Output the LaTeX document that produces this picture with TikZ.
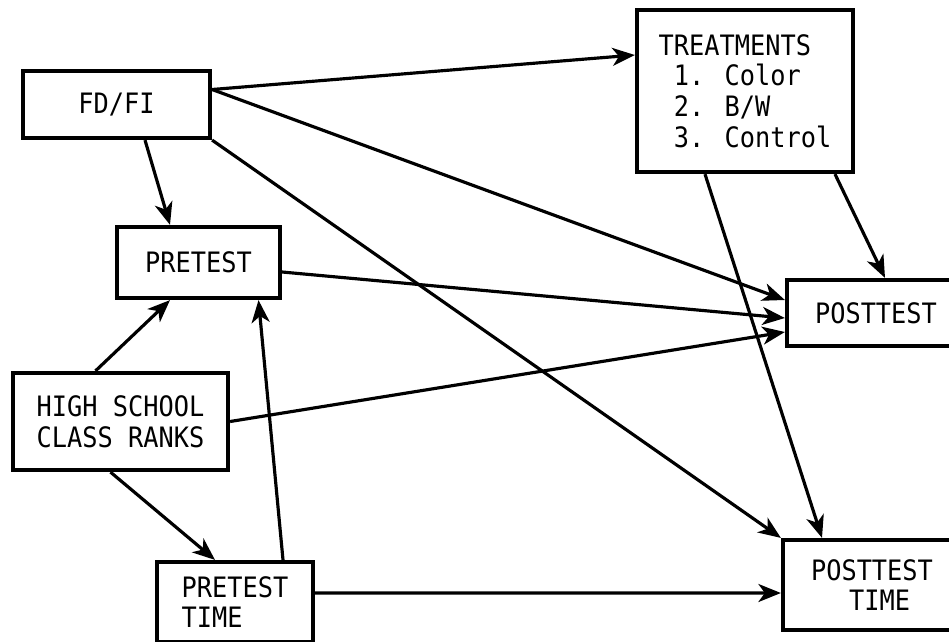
\documentclass[tikz,border=0pt]{standalone}
\usepackage{fontspec}
\setmainfont[FakeStretch=0.9]{DejaVu Sans Mono}
\usetikzlibrary{arrows.meta}

\begin{document}
\begin{tikzpicture}[
    box/.style={rectangle, draw=black, line width=2.4pt, fill=white,
        inner sep=2pt, font=\fontsize{16}{17.5}\selectfont},
    link/.style={line width=1.8pt, -{Stealth[length=4.5mm, width=3.6mm, inset=1.3mm]}}
]
    \useasboundingbox (0,0) rectangle (18.98,-12.84);
    \clip (0,0) rectangle (18.98,-12.84);
    \node[box, minimum width=3.74cm, minimum height=1.34cm] (fdfi) at (2.33,-2.09) {FD/FI};
    \node[box, minimum width=3.26cm, minimum height=1.42cm] (pretest) at (3.97,-5.25) {PRETEST};
    \node[box, minimum width=4.30cm, minimum height=1.94cm, align=center] (hsrank) at (2.41,-8.43) {HIGH SCHOOL\\CLASS RANKS};
    \node[box, minimum width=3.12cm, minimum height=1.60cm, align=left] (pretime) at (4.70,-12.04) {PRETEST\\TIME};
    \node[box, minimum width=4.32cm, minimum height=3.24cm, align=left] (treat) at (14.90,-1.82) {TREATMENTS\\~1. Color\\~2. B/W\\~3. Control};
    \node[box, minimum width=3.56cm, minimum height=1.32cm] (posttest) at (17.52,-6.26) {POSTTEST};
    \node[box, minimum width=3.56cm, minimum height=1.80cm, align=center] (posttime) at (17.44,-11.70) {POSTTEST\\~TIME};
    \draw[link] ([yshift=0.3cm]fdfi.east) -- ([yshift=0.72cm]treat.west);
    \draw[link] ([yshift=0.3cm]fdfi.east) -- ([yshift=0.26cm]posttest.west);
    \draw[link] (fdfi.south east) -- (posttime.north west);
    \draw[link] ([xshift=0.57cm]fdfi.south) -- ([xshift=-0.57cm]pretest.north);
    \draw[link] ([yshift=-0.19cm]pretest.east) -- ([yshift=-0.1cm]posttest.west);
    \draw[link] (hsrank.east) -- ([yshift=-0.38cm]posttest.west);
    \draw[link] ([xshift=-0.5cm]hsrank.north) -- ([xshift=-0.57cm]pretest.south);
    \draw[link] ([xshift=-0.2cm]hsrank.south) -- ([xshift=-0.4cm]pretime.north);
    \draw[link] ([xshift=0.96cm]pretime.north) -- ([xshift=1.2cm]pretest.south);
    \draw[link] ([yshift=0.18cm]pretime.east) -- ([yshift=-0.16cm]posttime.west);
    \draw[link] ([xshift=-0.8cm]treat.south) -- ([xshift=-1.0cm]posttime.north);
    \draw[link] ([xshift=1.8cm]treat.south) -- ([xshift=0.18cm]posttest.north);
\end{tikzpicture}
\end{document}
